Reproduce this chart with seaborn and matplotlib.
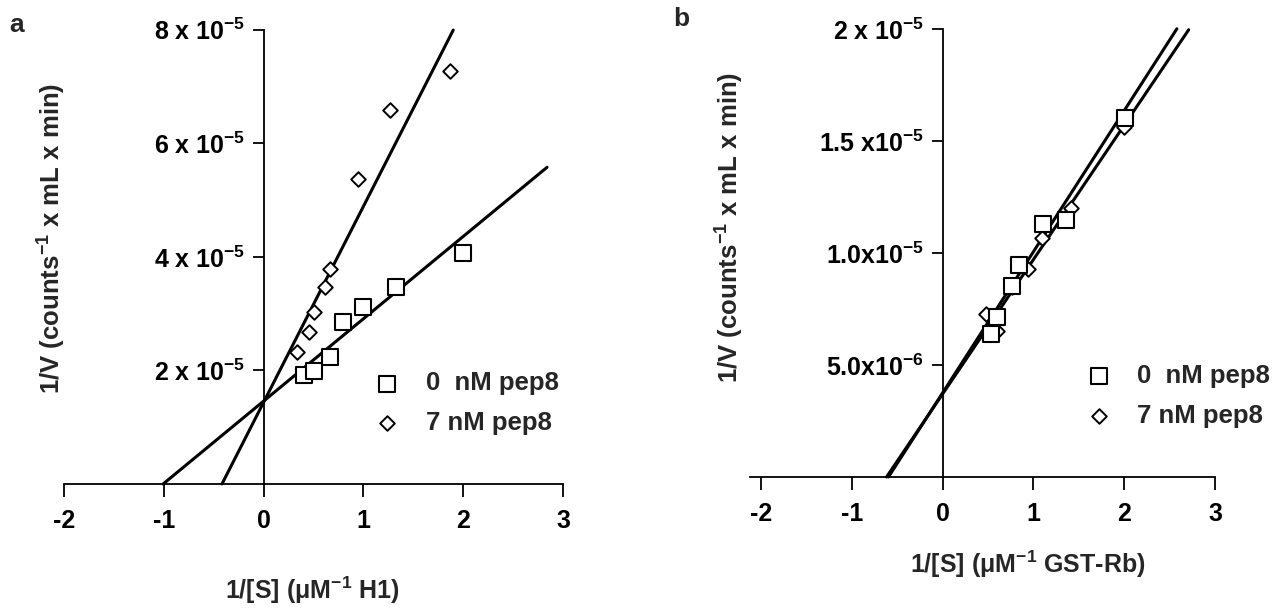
import numpy as np
import pandas as pd
import seaborn as sns
import matplotlib.pyplot as plt
from matplotlib.ticker import FixedLocator, FixedFormatter

sns.set_theme(style='ticks')
plt.rcParams['font.family'] = ['Liberation Sans', 'DejaVu Sans']
plt.rcParams['font.weight'] = 'bold'
plt.rcParams['mathtext.fontset'] = 'custom'
plt.rcParams['mathtext.rm'] = 'Liberation Sans:bold'
plt.rcParams['mathtext.it'] = 'Liberation Sans:bold'
plt.rcParams['mathtext.bf'] = 'Liberation Sans:bold'
plt.rcParams['mathtext.default'] = 'rm'

# ---- panel a : H1 substrate, 1/V in units of 1e-5
a_x_0nM = [0.40, 0.50, 0.67, 0.80, 1.00, 1.33, 2.00]
a_y_0nM = [1.92, 1.99, 2.24, 2.86, 3.11, 3.47, 4.06]
a_x_7nM = [0.33, 0.45, 0.50, 0.61, 0.67, 0.95, 1.27, 1.87]
a_y_7nM = [2.32, 2.68, 3.03, 3.47, 3.79, 5.37, 6.59, 7.27]
# fitted lines: intercept, slope, last x
a_fit_0nM = [1.46, 1.45, 2.84]
a_fit_7nM = [1.44, 3.45, 1.90]
a_yticks = [2, 4, 6, 8]
a_yticklabels = ['2 x 10$^{-5}$', '4 x 10$^{-5}$', '6 x 10$^{-5}$', '8 x 10$^{-5}$']

# ---- panel b : GST-Rb substrate, 1/V in units of 1e-6
b_x_0nM = [0.535, 0.605, 0.762, 0.839, 1.102, 1.36, 2.01]
b_y_0nM = [6.37, 7.16, 8.53, 9.45, 11.27, 11.47, 16.0]
b_x_7nM = [0.48, 0.60, 0.76, 0.94, 1.10, 1.41, 2.00]
b_y_7nM = [7.28, 6.51, 8.48, 9.30, 10.65, 11.99, 15.62]
b_fit_0nM = [3.75, 6.30, 2.58]
b_fit_7nM = [3.70, 6.00, 2.71]
b_yticks = [5, 10, 15, 20]
b_yticklabels = ['5.0x10$^{-6}$', '1.0x10$^{-5}$', '1.5 x10$^{-5}$', '2 x 10$^{-5}$']

xticks = [-2, -1, 0, 1, 2, 3]
labels = ['0  nM pep8', '7 nM pep8']

fig = plt.figure(figsize=(12.86, 6.08), dpi=100)
ax_a = fig.add_axes([0.0498, 0.204, 0.388, 0.747])
ax_b = fig.add_axes([0.5832, 0.2155, 0.3616, 0.737])


def fit_line(fit):
    b0, m, xend = fit
    x0 = -b0 / m
    return pd.DataFrame({'x': [x0, xend], 'y': [0.0, b0 + m * xend]})


def panel(ax, xs0, ys0, xs7, ys7, f0, f7, xlim, ylim, yt, ytl, xlab, ylab,
          xlab_pos, ylab_pos, leg_pos):
    for f in (f0, f7):
        d = fit_line(f)
        sns.lineplot(data=d, x='x', y='y', ax=ax, color='black', lw=2.2,
                     estimator=None, sort=False, clip_on=False)
    sns.scatterplot(x=xs0, y=ys0, ax=ax, marker='s', s=125, facecolor='white',
                    edgecolor='black', linewidth=1.5, label=labels[0], zorder=5)
    sns.scatterplot(x=xs7, y=ys7, ax=ax, marker='D', s=55, facecolor='white',
                    edgecolor='black', linewidth=1.4, label=labels[1], zorder=4)
    ax.set_xlim(*xlim)
    ax.set_ylim(*ylim)
    ax.spines['top'].set_visible(False)
    ax.spines['right'].set_visible(False)
    ax.spines['left'].set_position(('data', 0))
    for s in ('left', 'bottom'):
        ax.spines[s].set_linewidth(1.3)
        ax.spines[s].set_color('black')
    ax.xaxis.set_major_locator(FixedLocator(xticks))
    ax.xaxis.set_major_formatter(FixedFormatter([str(t) for t in xticks]))
    ax.yaxis.set_major_locator(FixedLocator(yt))
    ax.yaxis.set_major_formatter(FixedFormatter(ytl))
    ax.tick_params(axis='x', length=9, width=1.3, pad=9, labelsize=18, colors='black')
    ax.tick_params(axis='y', length=8, width=1.3, pad=5, labelsize=18, colors='black')
    ax.set_xlabel(xlab, fontsize=18, fontweight='bold')
    ax.set_ylabel(ylab, fontsize=18.5, fontweight='bold')
    ax.xaxis.set_label_coords(*xlab_pos)
    ax.yaxis.set_label_coords(*ylab_pos)
    ax.legend(loc='center left', bbox_to_anchor=leg_pos, frameon=False,
              fontsize=18.5, borderpad=0, handlelength=1.0, handletextpad=1.0,
              labelspacing=0.6)
    ax.set_facecolor('white')


panel(ax_a, a_x_0nM, a_y_0nM, a_x_7nM, a_y_7nM, a_fit_0nM, a_fit_7nM,
      (-2, 3), (0, 8), a_yticks, a_yticklabels,
      '1/[S] (μM$^{-1}$ H1)', '1/V (counts$^{-1}$ x mL x min)',
      (0.497, -0.20), (0.008, 0.54), (0.596, 0.178))
panel(ax_b, b_x_0nM, b_y_0nM, b_x_7nM, b_y_7nM, b_fit_0nM, b_fit_7nM,
      (-2.12, 3), (0, 20), b_yticks, b_yticklabels,
      '1/[S] (μM$^{-1}$ GST-Rb)', '1/V (counts$^{-1}$ x mL x min)',
      (0.598, -0.16), (-0.009, 0.556), (0.695, 0.181))

fig.text(17 / 1286, 1 - 25 / 608, 'a', fontsize=19, fontweight='bold', ha='center', va='center')
fig.text(681 / 1286, 1 - 19 / 608, 'b', fontsize=19, fontweight='bold', ha='center', va='center')

fig.savefig('out.png', dpi=100, facecolor='white')
